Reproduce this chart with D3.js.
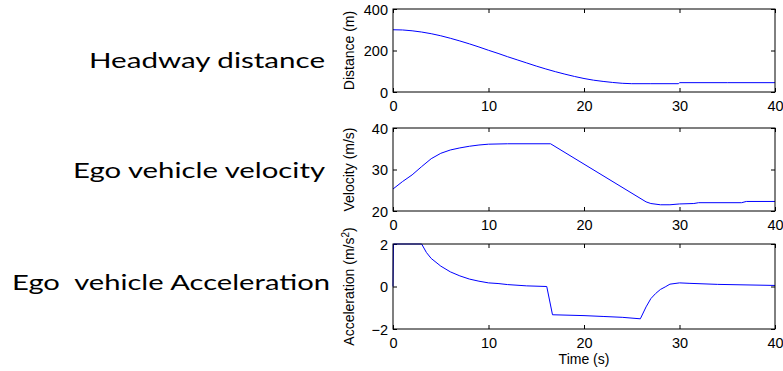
<!doctype html>
<html lang="en">
<head>
  <meta charset="utf-8">
  <title>Headway distance, ego velocity and acceleration</title>
  <script src="https://cdn.jsdelivr.net/npm/d3@7"></script>
  <style type="text/css">
    body { margin: 0; background-color: #ffffff; }
    .tick text { font-family: "Liberation Sans", Arial, sans-serif; font-size: 14.5px; fill: #000; }
    .tick line { stroke: #000; }
    .frame { fill: none; stroke: #000; stroke-width: 1; }
    .trace { fill: none; stroke: #0000ff; stroke-width: 1; }
    .ylabel, .xlabel { font-family: "Liberation Sans", Arial, sans-serif; font-size: 14px; fill: #000; }
    .caption { font-family: Lato, "Open Sans", sans-serif; font-size: 21px; fill: #000; white-space: pre; }
  </style>
</head>
<body>
<div id="chart"></div>
<script type="text/javascript">

  // Values
  var timeTicks = [0, 10, 20, 30, 40];

  var distTime  = [0, 1, 2, 3, 4, 5, 6, 7, 8, 9, 10, 11, 12, 13, 14, 15, 16, 17, 18, 19, 20, 21, 22, 23, 24, 25, 27, 29.9, 30, 35, 40];
  var distValue = [300, 299, 295, 289, 281, 271, 259, 246, 232, 217, 201, 186, 170, 155, 140, 125, 111, 98, 86, 75, 65, 57, 51, 46, 42, 40, 40, 40, 45, 45, 45];
  var distTicks = [0, 200, 400];

  var velTime  = [0, 1, 2, 3, 4, 5, 6, 7, 8, 9, 10, 12, 16.5, 26.5, 27, 28, 29, 30, 31.5, 32, 36.5, 37, 40];
  var velValue = [25.3, 27.1, 28.7, 30.7, 32.6, 33.9, 34.7, 35.2, 35.6, 35.9, 36.1, 36.2, 36.2, 22.2, 21.8, 21.5, 21.5, 21.7, 21.8, 22.0, 22.0, 22.3, 22.3];
  var velTicks = [20, 30, 40];

  var accTime  = [0, 0.05, 3, 3.5, 4, 5, 6, 7, 8, 9, 10, 11, 12, 14, 16.1, 16.7, 20, 22, 24, 25.9, 26.5, 27, 27.5, 28, 28.5, 29, 30, 31, 34, 40];
  var accValue = [0, 2, 2, 1.6, 1.32, 0.96, 0.69, 0.5, 0.35, 0.25, 0.17, 0.14, 0.09, 0.03, 0, -1.33, -1.37, -1.41, -1.45, -1.52, -0.96, -0.57, -0.33, -0.14, -0.02, 0.11, 0.17, 0.15, 0.1, 0.05];
  var accTicks = [-2, 0, 2];

  var captions = ["Headway distance", "Ego vehicle velocity", "Ego  vehicle Acceleration"];

  // Layout
  var width = 783, height = 371;
  var left = 393, right = 775;

  var svg = d3.select("#chart")
    .append("svg")
    .attr("width", width)
    .attr("height", height);

  var x = d3.scaleLinear().domain([0, 40]).range([left, right]);

  var panels = [
    { t: distTime, v: distValue, ticks: distTicks, domain: [0, 400], top: 9, bottom: 92, label: "Distance (m)", caption: captions[0], capX: 325, capY: 68, capW: 236 },
    { t: velTime, v: velValue, ticks: velTicks, domain: [20, 40], top: 128, bottom: 211, label: "Velocity (m/s)", caption: captions[1], capX: 325, capY: 178, capW: 252 },
    { t: accTime, v: accValue, ticks: accTicks, domain: [-2, 2], top: 244, bottom: 329, label: "Acceleration (m/s", sup: true, caption: captions[2], capX: 330, capY: 290, capW: 318 }
  ];

  panels.forEach(function(p, i) {
    var y = d3.scaleLinear().domain(p.domain).range([p.bottom, p.top]);
    var g = svg.append("g");

    // Ticks on all four sides, pointing inwards
    g.append("g")
      .attr("transform", "translate(0," + p.bottom + ")")
      .call(d3.axisBottom(x).tickValues(timeTicks).tickSizeInner(-4).tickSizeOuter(0).tickPadding(9))
      .call(function(a) { a.select(".domain").remove(); });
    g.append("g")
      .attr("transform", "translate(0," + p.top + ")")
      .call(d3.axisTop(x).tickValues(timeTicks).tickSizeInner(-4).tickSizeOuter(0).tickFormat(""))
      .call(function(a) { a.select(".domain").remove(); });
    g.append("g")
      .attr("transform", "translate(" + left + ",0)")
      .call(d3.axisLeft(y).tickValues(p.ticks).tickFormat(d3.format("d")).tickSizeInner(-4).tickSizeOuter(0).tickPadding(5))
      .call(function(a) { a.select(".domain").remove(); a.selectAll("text").attr("dy", "0.36em"); });
    g.append("g")
      .attr("transform", "translate(" + right + ",0)")
      .call(d3.axisRight(y).tickValues(p.ticks).tickSizeInner(-4).tickSizeOuter(0).tickFormat(""))
      .call(function(a) { a.select(".domain").remove(); });

    // The trace
    var pts = p.t.map(function(t, k) { return [t, p.v[k]]; });
    g.append("path")
      .datum(pts)
      .attr("class", "trace")
      .attr("d", d3.line().x(function(d) { return x(d[0]); }).y(function(d) { return y(d[1]); }));

    // Box
    g.append("rect")
      .attr("class", "frame")
      .attr("x", left)
      .attr("y", p.top)
      .attr("width", right - left)
      .attr("height", p.bottom - p.top);

    // Y label
    var lab = g.append("text")
      .attr("class", "ylabel")
      .attr("text-anchor", "middle")
      .attr("transform", "translate(354," + ((p.top + p.bottom) / 2) + ") rotate(-90)")
      .text(p.label);
    if (p.sup) {
      lab.append("tspan").attr("baseline-shift", "super").attr("font-size", "10px").text("2");
      lab.append("tspan").text(")");
    }

    // Caption on the left (the reference text is stretched sideways)
    svg.append("text")
      .attr("class", "caption")
      .attr("x", p.capX - p.capW)
      .attr("y", p.capY)
      .attr("textLength", p.capW)
      .attr("lengthAdjust", "spacingAndGlyphs")
      .text(p.caption);
  });

  svg.append("text")
    .attr("class", "xlabel")
    .attr("text-anchor", "middle")
    .attr("x", (left + right) / 2)
    .attr("y", 364)
    .text("Time (s)");

</script>
</body>
</html>
